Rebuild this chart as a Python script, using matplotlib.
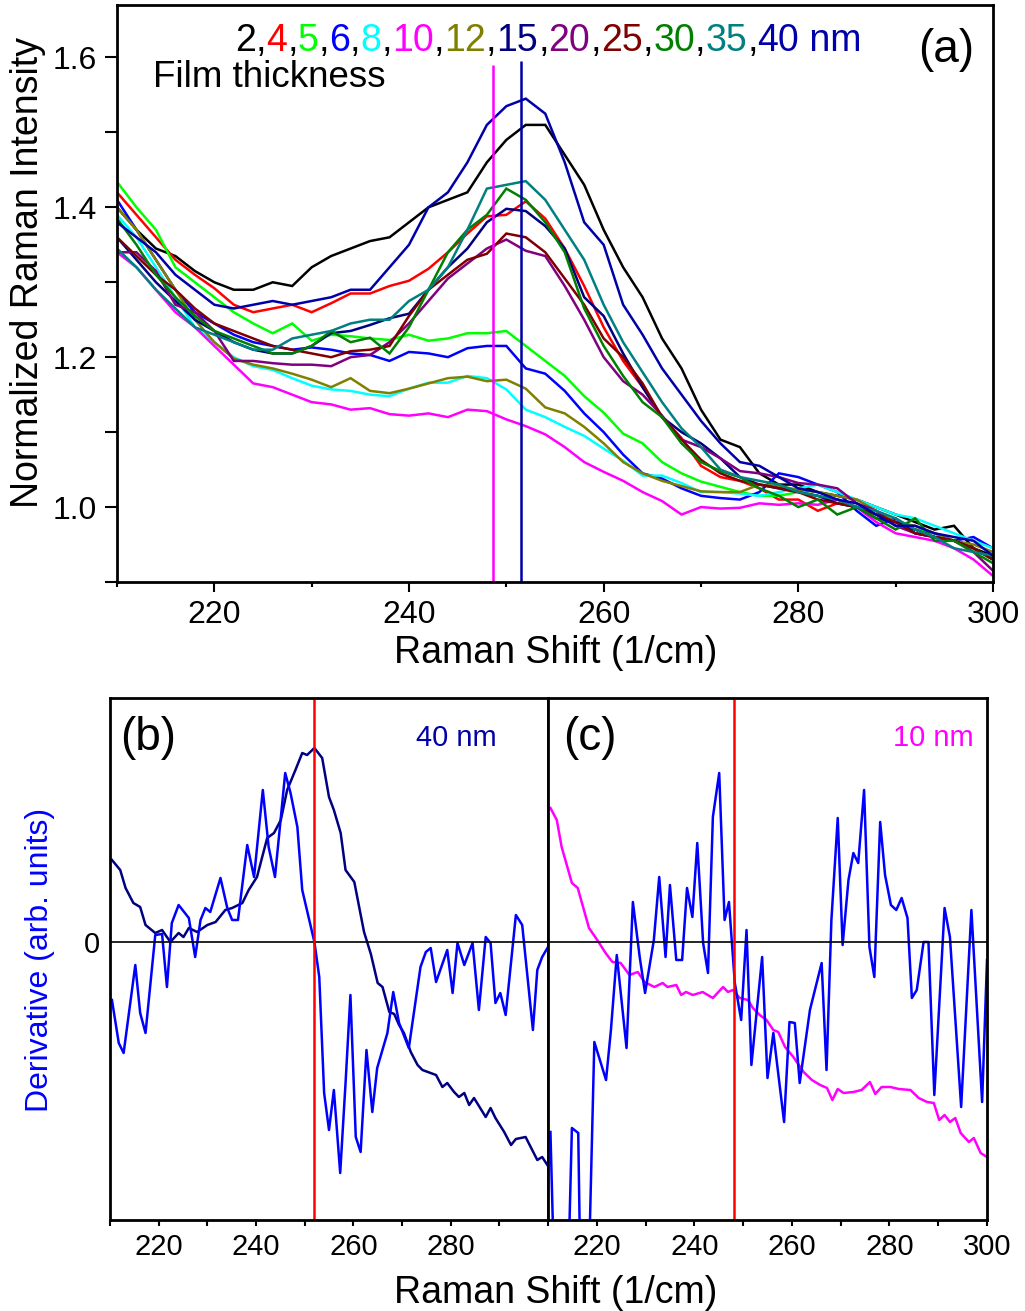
import matplotlib
matplotlib.use("Agg")
import matplotlib.pyplot as plt
from matplotlib.ticker import MultipleLocator, FormatStrFormatter, FixedLocator

plt.rcParams['font.family'] = ['Liberation Sans', 'DejaVu Sans']

# ---------------- panel (a) data ----------------
shift_a = list(range(210, 301, 2))

thickness = [2, 4, 5, 6, 8, 10, 12, 15, 20, 25, 30, 35, 40]
colors = ['#000000', '#FF0000', '#00FF00', '#0000FF', '#00FFFF', '#FF00FF', '#808000',
          '#000080', '#800080', '#800000', '#008000', '#008080', '#0000A8']

i_2nm = [1.40, 1.37, 1.345, 1.335, 1.315, 1.30, 1.29, 1.29, 1.30, 1.295, 1.32, 1.335, 1.345, 1.355, 1.36, 1.38,
         1.40, 1.41, 1.42, 1.46, 1.49, 1.51, 1.51, 1.47, 1.43, 1.37, 1.32, 1.28, 1.225, 1.185, 1.13, 1.09, 1.08,
         1.045, 1.03, 1.03, 1.02, 1.015, 1.01, 1.0, 0.99, 0.98, 0.97, 0.975, 0.945, 0.935]
i_4nm = [1.42, 1.39, 1.36, 1.33, 1.31, 1.292, 1.27, 1.26, 1.265, 1.27, 1.26, 1.272, 1.285, 1.285, 1.295, 1.302,
         1.318, 1.34, 1.365, 1.388, 1.39, 1.408, 1.385, 1.345, 1.295, 1.24, 1.195, 1.16, 1.12, 1.092, 1.055, 1.04,
         1.035, 1.025, 1.01, 1.01, 0.995, 1.005, 1.0, 0.99, 0.98, 0.97, 0.965, 0.955, 0.945, 0.93]
i_5nm = [1.434, 1.40, 1.37, 1.32, 1.30, 1.28, 1.26, 1.245, 1.232, 1.245, 1.222, 1.23, 1.228, 1.225, 1.223, 1.23,
         1.222, 1.225, 1.232, 1.232, 1.235, 1.215, 1.195, 1.175, 1.148, 1.126, 1.098, 1.085, 1.06, 1.045, 1.034,
         1.027, 1.02, 1.015, 1.015, 1.02, 1.015, 1.01, 1.0, 0.99, 0.98, 0.97, 0.965, 0.955, 0.945, 0.93]
i_6nm = [1.41, 1.37, 1.33, 1.29, 1.26, 1.245, 1.23, 1.22, 1.215, 1.21, 1.213, 1.21, 1.205, 1.203, 1.195, 1.207,
         1.205, 1.20, 1.212, 1.215, 1.215, 1.185, 1.178, 1.155, 1.125, 1.10, 1.07, 1.045, 1.038, 1.025, 1.015,
         1.012, 1.01, 1.02, 1.045, 1.04, 1.03, 1.02, 0.995, 0.975, 0.985, 0.965, 0.96, 0.955, 0.96, 0.945]
i_8nm = [1.39, 1.36, 1.32, 1.28, 1.24, 1.22, 1.20, 1.188, 1.183, 1.172, 1.162, 1.157, 1.155, 1.15, 1.148, 1.158,
         1.166, 1.166, 1.175, 1.172, 1.157, 1.13, 1.12, 1.107, 1.095, 1.078, 1.062, 1.042, 1.042, 1.032, 1.02,
         1.02, 1.018, 1.015, 1.02, 1.025, 1.03, 1.02, 1.01, 1.0, 0.99, 0.985, 0.975, 0.965, 0.955, 0.945]
i_10nm = [1.34, 1.32, 1.29, 1.26, 1.24, 1.215, 1.19, 1.165, 1.16, 1.15, 1.14, 1.137, 1.13, 1.132, 1.124, 1.122,
          1.125, 1.12, 1.13, 1.128, 1.117, 1.108, 1.097, 1.08, 1.06, 1.047, 1.035, 1.02, 1.008, 0.99, 1.0, 0.998,
          0.999, 1.005, 1.003, 1.005, 1.003, 1.01, 1.0, 0.98, 0.965, 0.96, 0.955, 0.945, 0.93, 0.908]
i_12nm = [1.40, 1.37, 1.33, 1.29, 1.25, 1.22, 1.198, 1.19, 1.185, 1.178, 1.17, 1.16, 1.172, 1.155, 1.152, 1.158,
          1.165, 1.172, 1.174, 1.168, 1.17, 1.158, 1.133, 1.125, 1.107, 1.085, 1.06, 1.045, 1.035, 1.028, 1.021,
          1.02, 1.02, 1.03, 1.028, 1.023, 1.02, 1.015, 1.01, 0.995, 0.98, 0.975, 0.965, 0.955, 0.95, 0.94]
i_15nm = [1.36, 1.33, 1.30, 1.275, 1.25, 1.235, 1.22, 1.21, 1.205, 1.205, 1.215, 1.232, 1.235, 1.243, 1.252, 1.258,
          1.29, 1.32, 1.345, 1.38, 1.398, 1.395, 1.375, 1.345, 1.28, 1.255, 1.205, 1.16, 1.12, 1.10, 1.085, 1.065,
          1.04, 1.03, 1.025, 1.02, 1.015, 1.005, 1.0, 0.985, 0.98, 0.97, 0.96, 0.955, 0.945, 0.93]
i_20nm = [1.34, 1.34, 1.315, 1.27, 1.26, 1.235, 1.195, 1.195, 1.192, 1.19, 1.19, 1.188, 1.20, 1.203, 1.22, 1.245,
          1.275, 1.305, 1.325, 1.345, 1.357, 1.342, 1.335, 1.295, 1.25, 1.20, 1.168, 1.15, 1.122, 1.09, 1.08,
          1.065, 1.048, 1.045, 1.04, 1.032, 1.03, 1.025, 1.005, 0.995, 0.975, 0.965, 0.96, 0.955, 0.94, 0.915]
i_25nm = [1.36, 1.335, 1.31, 1.29, 1.265, 1.245, 1.235, 1.225, 1.215, 1.21, 1.205, 1.20, 1.208, 1.21, 1.215, 1.255,
          1.29, 1.31, 1.33, 1.338, 1.365, 1.36, 1.34, 1.305, 1.27, 1.225, 1.20, 1.165, 1.12, 1.09, 1.063, 1.045,
          1.035, 1.03, 1.025, 1.02, 1.01, 1.005, 1.0, 0.99, 0.98, 0.965, 0.96, 0.955, 0.945, 0.93]
i_30nm = [1.385, 1.35, 1.31, 1.28, 1.255, 1.235, 1.225, 1.215, 1.205, 1.205, 1.215, 1.235, 1.22, 1.226, 1.205, 1.24,
          1.29, 1.34, 1.37, 1.39, 1.425, 1.41, 1.38, 1.34, 1.265, 1.215, 1.175, 1.14, 1.12, 1.085, 1.06, 1.048,
          1.04, 1.025, 1.015, 1.0, 1.01, 0.99, 1.0, 0.985, 0.97, 0.985, 0.955, 0.955, 0.94, 0.925]
i_35nm = [1.345, 1.32, 1.29, 1.265, 1.24, 1.23, 1.22, 1.21, 1.21, 1.225, 1.23, 1.235, 1.245, 1.25, 1.25, 1.275,
          1.29, 1.32, 1.37, 1.425, 1.43, 1.435, 1.41, 1.37, 1.33, 1.27, 1.22, 1.18, 1.14, 1.105, 1.08, 1.05,
          1.04, 1.035, 1.03, 1.02, 1.015, 1.01, 1.0, 0.995, 0.985, 0.97, 0.96, 0.945, 0.94, 0.935]
i_40nm = [1.38, 1.36, 1.34, 1.31, 1.29, 1.27, 1.265, 1.27, 1.275, 1.27, 1.275, 1.28, 1.29, 1.29, 1.32, 1.35,
          1.40, 1.42, 1.46, 1.51, 1.535, 1.545, 1.525, 1.46, 1.38, 1.35, 1.27, 1.23, 1.185, 1.15, 1.115, 1.085,
          1.06, 1.055, 1.04, 1.025, 1.02, 1.01, 1.005, 0.99, 0.975, 0.975, 0.965, 0.96, 0.955, 0.935]

spectra = [i_2nm, i_4nm, i_5nm, i_6nm, i_8nm, i_10nm, i_12nm, i_15nm, i_20nm, i_25nm, i_30nm, i_35nm, i_40nm]

peak_10nm = 248.6
peak_40nm = 251.5
peak_line_top = 1.59

# ---------------- panel (b) data: 40 nm ----------------
deriv40_x = [210.4, 211.8, 212.8, 215.2, 216.2, 217.3, 219.3, 220.7, 221.7, 222.7, 224.1, 226.2, 227.5, 228.6,
             229.6, 230.6, 232.7, 234.1, 235.1, 236.3, 238.2, 239.6, 241.4, 242.6, 243.9, 246.0, 247.1, 248.5,
             249.5, 252.0, 253.0, 254.0, 255.0, 256.0, 257.3, 258.4, 259.4, 260.5, 261.5, 262.7, 263.9, 264.9,
             267.0, 268.2, 269.4, 271.4, 273.8, 274.9, 275.9, 277.0, 279.3, 280.4, 281.4, 282.8, 284.5, 285.8,
             287.2, 288.2, 289.2, 290.2, 291.3, 293.4, 294.7, 296.9, 297.8, 298.8, 300.0]
deriv40_y = [-0.58, -1.01, -1.11, -0.23, -0.71, -0.91, 0.07, 0.08, -0.45, 0.19, 0.37, 0.24, -0.15, 0.22,
             0.34, 0.30, 0.64, 0.34, 0.22, 0.22, 0.97, 0.65, 1.52, 0.95, 0.65, 1.69, 1.49, 1.15,
             0.52, 0.0, -0.35, -1.51, -1.88, -1.48, -2.31, -1.41, -0.53, -1.95, -2.10, -1.08, -1.70, -1.26,
             -0.91, -0.50, -0.81, -1.06, -0.25, -0.10, -0.06, -0.40, -0.08, -0.51, -0.01, -0.23, -0.01, -0.68,
             0.05, -0.01, -0.61, -0.51, -0.73, 0.27, 0.17, -0.88, -0.28, -0.15, -0.05]

spec40_x = [210.4, 212.1, 213.2, 214.8, 216.2, 217.3, 219.3, 220.7, 222.4, 224.1, 225.1, 226.2, 227.9, 230.0,
            231.7, 233.7, 235.1, 237.2, 238.5, 240.2, 242.3, 243.7, 245.1, 246.4, 248.1, 249.5, 250.5, 252.0,
            253.6, 255.0, 256.0, 257.4, 258.4, 260.2, 261.2, 262.2, 263.6, 265.0, 266.0, 267.4, 268.4, 269.4,
            270.4, 271.8, 273.2, 274.2, 277.0, 278.3, 279.3, 280.7, 281.7, 282.8, 283.8, 284.8, 287.2, 288.2,
            289.2, 291.0, 292.4, 293.4, 295.4, 297.8, 298.8, 300.0]
spec40_y = [0.82, 0.72, 0.54, 0.39, 0.35, 0.17, 0.09, 0.12, 0.0, 0.09, 0.05, 0.14, 0.10, 0.17,
            0.20, 0.32, 0.34, 0.39, 0.52, 0.65, 1.04, 1.09, 1.22, 1.52, 1.72, 1.89, 1.87, 1.94,
            1.84, 1.45, 1.32, 1.09, 0.72, 0.60, 0.35, 0.10, -0.12, -0.41, -0.45, -0.70, -0.72, -0.83,
            -0.91, -1.10, -1.23, -1.28, -1.33, -1.45, -1.41, -1.50, -1.55, -1.51, -1.63, -1.56, -1.75, -1.66,
            -1.76, -1.90, -2.03, -1.97, -1.95, -2.18, -2.15, -2.24]
marker_b = 252.0

# ---------------- panel (c) data: 10 nm ----------------
deriv10_x = [210.5, 211.2, 214.2, 214.9, 216.2, 216.6, 218.4, 219.5, 221.9, 222.9, 224.1, 226.1, 227.4, 228.8,
             229.9, 231.7, 232.8, 234.1, 235.0, 236.3, 237.5, 238.5, 239.6, 240.6, 241.8, 242.8, 243.8, 245.1,
             246.2, 247.1, 248.3, 249.6, 250.7, 251.7, 253.9, 255.0, 256.2, 258.4, 259.5, 260.6, 261.6, 263.7,
             266.1, 267.1, 268.1, 269.4, 270.4, 271.6, 272.6, 273.6, 274.8, 275.9, 276.9, 278.1, 279.1, 280.3,
             281.4, 282.5, 283.7, 284.6, 285.6, 287.0, 288.0, 289.2, 291.3, 292.4, 294.7, 296.8, 299.0, 300.0]
deriv10_y = [-1.90, -3.2, -3.2, -1.86, -1.91, -3.2, -3.2, -1.00, -1.38, -0.88, -0.13, -1.06, 0.40, -0.15,
             -0.51, 0.02, 0.65, -0.15, 0.57, -0.18, -0.18, 0.54, 0.25, 0.99, -0.01, -0.31, 1.25, 1.69,
             0.22, 0.40, -0.41, -0.78, 0.12, -1.23, -0.15, -1.36, -0.91, -1.80, -0.80, -0.81, -1.41, -0.68,
             -0.21, -1.28, 0.22, 1.24, -0.03, 0.62, 0.89, 0.79, 1.52, -0.05, -0.35, 1.20, 0.67, 0.37,
             0.32, 0.44, 0.24, -0.56, -0.48, 0.0, 0.0, -1.53, 0.34, 0.05, -1.65, 0.32, -1.6, -0.18]

spec10_x = [210.5, 211.8, 212.8, 214.9, 216.1, 218.4, 220.1, 221.8, 223.2, 224.9, 226.7, 228.4, 229.8, 231.8,
            233.5, 234.5, 236.3, 237.3, 238.3, 239.7, 241.7, 243.8, 245.9, 246.9, 247.9, 249.3, 251.0, 252.0,
            253.4, 254.8, 256.2, 257.2, 258.6, 260.3, 262.4, 264.1, 265.8, 267.2, 268.3, 269.4, 270.6, 272.6,
            274.3, 276.0, 277.1, 278.4, 280.2, 281.9, 284.3, 286.0, 287.7, 289.1, 290.2, 291.3, 292.4, 293.5,
            294.6, 296.3, 297.3, 298.7, 300.0]
spec10_y = [1.34, 1.22, 0.95, 0.59, 0.54, 0.14, 0.02, -0.11, -0.20, -0.21, -0.33, -0.30, -0.40, -0.45,
            -0.41, -0.45, -0.43, -0.53, -0.50, -0.53, -0.50, -0.56, -0.45, -0.50, -0.48, -0.56, -0.58, -0.66,
            -0.73, -0.78, -0.88, -0.90, -1.05, -1.15, -1.30, -1.38, -1.43, -1.46, -1.58, -1.47, -1.51, -1.50,
            -1.48, -1.40, -1.52, -1.45, -1.45, -1.47, -1.48, -1.56, -1.60, -1.61, -1.78, -1.73, -1.80, -1.76,
            -1.91, -2.00, -1.96, -2.11, -2.15]
marker_c = 248.1

W, H = 1025, 1311
fig = plt.figure(figsize=(W / 100, H / 100), dpi=100)

def box(l, t, r, b):
    return [l / W, 1 - b / H, (r - l) / W, (b - t) / H]

ax_a = fig.add_axes(box(117, 5, 993, 582))
ax_b = fig.add_axes(box(110, 698, 548, 1220))
ax_c = fig.add_axes(box(548, 698, 987, 1220))

# ---- panel (a)
for y, c in zip(spectra, colors):
    ax_a.plot(shift_a, y, color=c, lw=1.8, solid_joinstyle='miter')
ax_a.vlines(peak_10nm, 0.9, peak_line_top, color='#FF00FF', lw=1.8)
ax_a.vlines(peak_40nm, 0.9, peak_line_top + 0.005, color='#0000A8', lw=1.8)
ax_a.set_xlim(210, 300)
ax_a.set_ylim(0.9, 1.67)
ax_a.xaxis.set_major_locator(MultipleLocator(20))
ax_a.xaxis.set_minor_locator(MultipleLocator(10))
ax_a.yaxis.set_major_locator(MultipleLocator(0.2))
ax_a.yaxis.set_minor_locator(MultipleLocator(0.1))
ax_a.yaxis.set_major_formatter(FormatStrFormatter('%.1f'))
ax_a.tick_params(axis='x', which='major', direction='out', length=7, width=1.5, labelsize=23, pad=6)
ax_a.tick_params(axis='x', which='minor', direction='out', length=3.6, width=1.5)
ax_a.tick_params(axis='y', which='both', direction='out', length=8.6, width=1.5, labelsize=23, pad=6)
for s in ax_a.spines.values():
    s.set_linewidth(2.0)
ax_a.text(0.946, 0.922, '(a)', transform=ax_a.transAxes, fontsize=33, ha='center', va='center')

# colored thickness header
fig.text(153 / W, 1 - 87 / H, 'Film thickness', fontsize=26.5, va='baseline', ha='left')
pieces = []
for i, (t, c) in enumerate(zip(thickness, colors)):
    pieces.append((str(t), c))
    if i < len(thickness) - 1:
        pieces.append((',', '#000000'))
    else:
        pieces.append((' nm', c))
prev = fig.text(235 / W, 1 - 51 / H, pieces[0][0], color=pieces[0][1], fontsize=27,
                va='baseline', ha='left')
for s, c in pieces[1:]:
    prev = ax_a.annotate(s, xy=(1, 0), xycoords=prev, va='bottom', ha='left', color=c,
                         fontsize=27, annotation_clip=False)

fig.text(556 / W, 1 - 653 / H, 'Raman Shift (1/cm)', fontsize=27, ha='center', va='center')
fig.text(28 / W, 1 - 272 / H, 'Normalized Raman Intensity', fontsize=27, rotation=90,
         ha='center', va='center')

# ---- panels (b), (c)
ylim_bc = (-2.78, 2.44)
ax_b.plot(spec40_x, spec40_y, color='#000080', lw=1.8)
ax_b.plot(deriv40_x, deriv40_y, color='#0000FF', lw=1.8)
ax_b.axhline(0, color='k', lw=1.2)
ax_b.axvline(marker_b, color='#FF0000', lw=1.8)

ax_c.plot(spec10_x, spec10_y, color='#FF00FF', lw=1.8)
ax_c.plot(deriv10_x, deriv10_y, color='#0000FF', lw=1.8)
ax_c.axhline(0, color='k', lw=1.2)
ax_c.axvline(marker_c, color='#FF0000', lw=1.8)

for ax, majors in ((ax_b, [220, 240, 260, 280]), (ax_c, [220, 240, 260, 280, 300])):
    ax.set_xlim(210, 300)
    ax.set_ylim(*ylim_bc)
    ax.xaxis.set_major_locator(FixedLocator(majors))
    ax.xaxis.set_minor_locator(FixedLocator([210, 230, 250, 270, 290]))
    ax.tick_params(axis='x', which='both', direction='out', length=4.5, width=1.5, labelsize=21, pad=5)
    for s in ax.spines.values():
        s.set_linewidth(2.0)

ax_b.set_yticks([0])
ax_b.set_yticklabels(['0'])
ax_b.tick_params(axis='y', length=0, labelsize=21, pad=7)
ax_c.set_yticks([])

ax_b.text(0.087, 0.923, '(b)', transform=ax_b.transAxes, fontsize=33, ha='center', va='center')
ax_c.text(0.096, 0.923, '(c)', transform=ax_c.transAxes, fontsize=33, ha='center', va='center')
ax_b.text(0.79, 0.923, '40 nm', transform=ax_b.transAxes, fontsize=21, ha='center', va='center',
          color='#0000A8')
ax_c.text(0.877, 0.923, '10 nm', transform=ax_c.transAxes, fontsize=21, ha='center', va='center',
          color='#FF00FF')

fig.text(556 / W, 1 - 1293 / H, 'Raman Shift (1/cm)', fontsize=27, ha='center', va='center')
fig.text(40 / W, 1 - 960 / H, 'Derivative (arb. units)', fontsize=23, rotation=90,
         ha='center', va='center', color='#0000FF')

fig.savefig('out.png', dpi=100)
